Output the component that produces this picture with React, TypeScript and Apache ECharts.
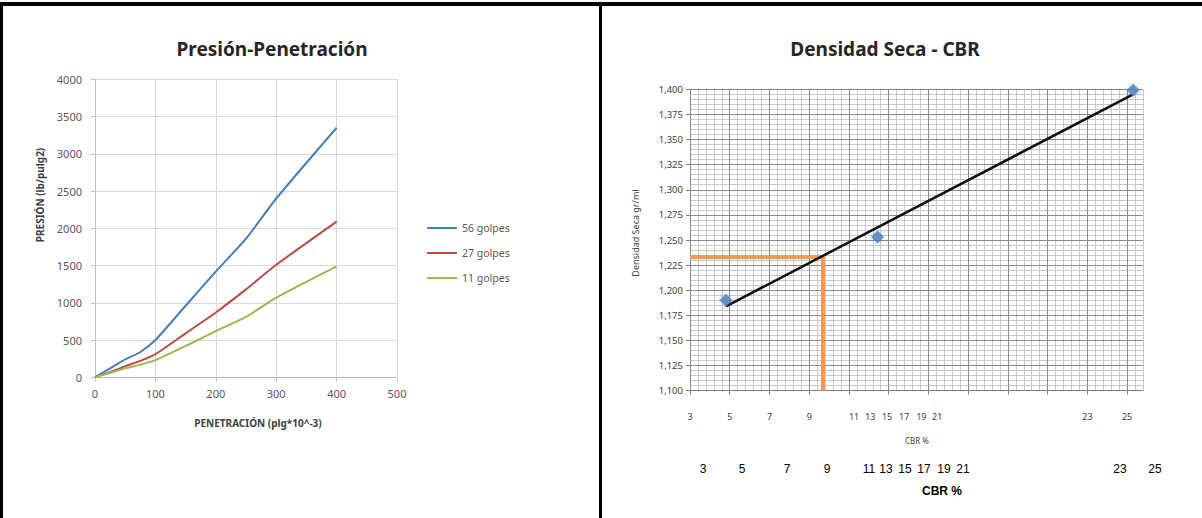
import React, { useEffect, useRef } from "react";
import * as echarts from "echarts";

// ---------- Data: Presión-Penetración ----------
const penetration = [0, 25, 50, 75, 100, 150, 200, 250, 300, 400];
const golpes56 = [0, 120, 240, 340, 500, 960, 1420, 1860, 2400, 3350];
const golpes27 = [0, 70, 150, 220, 310, 590, 870, 1180, 1510, 2090];
const golpes11 = [0, 60, 120, 170, 230, 420, 620, 810, 1070, 1490];
const seriesNames = ["56 golpes", "27 golpes", "11 golpes"];

// ---------- Data: Densidad Seca - CBR ----------
const cbrValues = [4.81, 12.44, 25.3];
const densidadValues = [1.19, 1.253, 1.399];
const trendCbr = [4.81, 25.3];
const trendDensidad = [1.184, 1.395];
const designCbr = [3, 9.69, 9.69];
const designDensidad = [1.233, 1.233, 1.1];

// axis ticks / labels
const cbrTickValues = [3, 5, 7, 9, 11, 13, 15, 17, 19, 21, 23, 25];
const cbrLabelTexts = ["3", "5", "7", "9", "11", "13", "15", "17", "19", "21", "23", "25"];
const cbrLabelPositions = [3, 5, 7, 9, 11.26, 12.07, 12.92, 13.78, 14.64, 15.44, 23, 25];

// ---------- Layout (not data) ----------
const docLabelX = [703, 742, 787, 827, 869, 886, 905, 924, 944, 963, 1120, 1155];
const FONT = "'Noto Sans', sans-serif";

export default function App() {
  const ref = useRef<HTMLDivElement>(null);

  useEffect(() => {
    document.body.style.margin = "0";
    const chart = echarts.init(ref.current!, null, { renderer: "svg" });

    const minorCbr: number[] = [];
    for (let i = 0; i <= 57; i++) minorCbr.push(+(3 + i * 0.4).toFixed(2));

    const text = (x: number, y: number, t: string, o: any = {}) => ({
      type: "text",
      x,
      y,
      rotation: o.rotation || 0,
      silent: true,
      style: {
        text: t,
        fill: o.fill || "#404040",
        fontSize: o.fontSize || 11,
        fontWeight: o.fontWeight || "normal",
        fontFamily: o.fontFamily || FONT,
        align: "center",
        verticalAlign: "middle",
      },
    });

    const graphic: any[] = [
      // table borders
      { type: "rect", shape: { x: 0, y: 2, width: 1202, height: 4 }, style: { fill: "#000" } },
      { type: "rect", shape: { x: 0, y: 2, width: 3, height: 516 }, style: { fill: "#000" } },
      { type: "rect", shape: { x: 599, y: 2, width: 3, height: 516 }, style: { fill: "#000" } },
      // titles
      text(272, 49, "Presión-Penetración", { fontSize: 19, fontWeight: "bold", fill: "#262626" }),
      text(885, 49, "Densidad Seca - CBR", { fontSize: 19, fontWeight: "bold", fill: "#262626" }),
      // axis names
      text(40, 195, "PRESIÓN (lb/pulg2)", { rotation: Math.PI / 2, fontSize: 10, fontWeight: "bold" }),
      text(258, 423, "PENETRACIÓN (plg*10^-3)", { fontSize: 10, fontWeight: "bold" }),
      text(635, 233, "Densidad Seca gr/ml", { rotation: Math.PI / 2, fontSize: 9 }),
      text(917, 440, "CBR %", { fontSize: 8 }),
      // document text box below chart
      ...cbrLabelTexts.map((t, i) =>
        text(docLabelX[i], 469, t, { fontSize: 12, fill: "#000", fontFamily: "'Liberation Sans', Arial, sans-serif" })
      ),
      text(942, 491, "CBR %", { fontSize: 12, fontWeight: "bold", fill: "#000", fontFamily: "'Liberation Sans', Arial, sans-serif" }),
    ];

    const option: any = {
      animation: false,
      backgroundColor: "#ffffff",
      textStyle: { fontFamily: FONT },
      graphic,
      legend: {
        orient: "vertical",
        left: 427,
        top: 221,
        padding: 0,
        itemWidth: 30,
        itemHeight: 2,
        itemGap: 11,
        icon: "rect",
        data: seriesNames,
        textStyle: { fontSize: 10.5, color: "#595959", lineHeight: 14, fontFamily: FONT },
      },
      grid: [
        { left: 95, top: 79.3, width: 302, height: 298 },
        { left: 690, top: 89.3, width: 453, height: 301.4 },
      ],
      xAxis: [
        {
          gridIndex: 0,
          type: "value",
          min: 0,
          max: 500,
          interval: 100,
          axisLine: { show: true, lineStyle: { color: "#bfbfbf" } },
          axisTick: { show: true, length: 4, lineStyle: { color: "#bfbfbf" } },
          axisLabel: { fontSize: 11, color: "#595959", margin: 11, formatter: (v: number) => String(v) },
          splitLine: { show: true, lineStyle: { color: "#d9d9d9" } },
        },
        {
          gridIndex: 1,
          type: "value",
          min: 3,
          max: 25.8,
          z: 3,
          axisLine: { show: true, lineStyle: { color: "#808080" } },
          axisTick: { show: true, length: 4, customValues: cbrTickValues, lineStyle: { color: "#808080" } },
          axisLabel: {
            customValues: cbrLabelPositions,
            formatter: (v: number) => {
              const i = cbrLabelPositions.findIndex((p) => Math.abs(p - v) < 1e-6);
              return i >= 0 ? cbrLabelTexts[i] : "";
            },
            fontSize: 9,
            color: "#404040",
            margin: 21,
          },
          splitLine: { show: true, lineStyle: { color: "#8a8a8a" } },
        },
        {
          gridIndex: 1,
          type: "value",
          min: 3,
          max: 25.8,
          position: "top",
          z: 1,
          axisLine: { show: false },
          axisTick: { show: false, customValues: minorCbr },
          axisLabel: { show: false },
          splitLine: { show: true, lineStyle: { color: "#c8c8c8" } },
        },
      ],
      yAxis: [
        {
          gridIndex: 0,
          type: "value",
          min: 0,
          max: 4000,
          interval: 500,
          axisLine: { show: true, lineStyle: { color: "#bfbfbf" } },
          axisTick: { show: true, length: 4, lineStyle: { color: "#bfbfbf" } },
          axisLabel: { fontSize: 11, color: "#595959", margin: 13, formatter: (v: number) => String(v) },
          splitLine: { show: true, lineStyle: { color: "#d9d9d9" } },
        },
        {
          gridIndex: 1,
          type: "value",
          min: 1.1,
          max: 1.4,
          interval: 0.025,
          z: 2,
          axisLine: { show: true, lineStyle: { color: "#808080" } },
          axisTick: { show: true, length: 4, lineStyle: { color: "#808080" } },
          axisLabel: {
            fontSize: 9.5,
            color: "#404040",
            margin: 7,
            formatter: (v: number) => v.toFixed(3).replace(".", ","),
          },
          splitLine: { show: true, lineStyle: { color: "#8a8a8a" } },
          minorTick: { show: false, splitNumber: 5 },
          minorSplitLine: { show: true, lineStyle: { color: "#c8c8c8" } },
        },
      ],
      series: [
        {
          name: seriesNames[0],
          type: "line",
          xAxisIndex: 0,
          yAxisIndex: 0,
          symbol: "none",
          smooth: 0.2,
          data: penetration.map((x, i) => [x, golpes56[i]]),
          lineStyle: { color: "#4A7EBB", width: 2 },
          itemStyle: { color: "#4A7EBB" },
        },
        {
          name: seriesNames[1],
          type: "line",
          xAxisIndex: 0,
          yAxisIndex: 0,
          symbol: "none",
          smooth: 0.2,
          data: penetration.map((x, i) => [x, golpes27[i]]),
          lineStyle: { color: "#BE4B48", width: 2 },
          itemStyle: { color: "#BE4B48" },
        },
        {
          name: seriesNames[2],
          type: "line",
          xAxisIndex: 0,
          yAxisIndex: 0,
          symbol: "none",
          smooth: 0.2,
          data: penetration.map((x, i) => [x, golpes11[i]]),
          lineStyle: { color: "#98B954", width: 2 },
          itemStyle: { color: "#98B954" },
        },
        {
          name: "Diseño",
          type: "line",
          xAxisIndex: 1,
          yAxisIndex: 1,
          symbol: "none",
          z: 4,
          data: designCbr.map((x, i) => [x, designDensidad[i]]),
          lineStyle: { color: "#F59A52", width: 4 },
          itemStyle: { color: "#F59A52" },
        },
        {
          name: "Tendencia",
          type: "line",
          xAxisIndex: 1,
          yAxisIndex: 1,
          symbol: "none",
          z: 5,
          data: trendCbr.map((x, i) => [x, trendDensidad[i]]),
          lineStyle: { color: "#111111", width: 2.5 },
          itemStyle: { color: "#111111" },
        },
        {
          name: "Densidad",
          type: "scatter",
          xAxisIndex: 1,
          yAxisIndex: 1,
          symbol: "diamond",
          symbolSize: 13,
          z: 6,
          data: cbrValues.map((x, i) => [x, densidadValues[i]]),
          itemStyle: { color: "#4F81BD", shadowBlur: 4, shadowColor: "rgba(79,129,189,0.5)" },
        },
      ],
    };

    chart.setOption(option);
    return () => chart.dispose();
  }, []);

  return <div ref={ref} style={{ width: 1202, height: 518, background: "#fff" }} />;
}
